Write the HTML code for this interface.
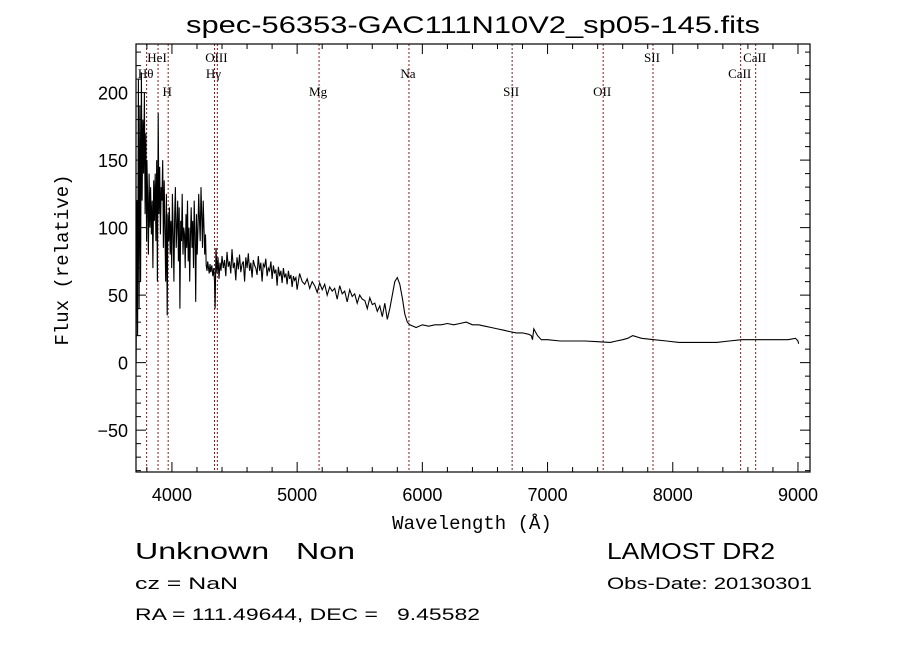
<!DOCTYPE html>
<html><head><meta charset="utf-8"><style>
body{margin:0;background:#fff;}
svg text{font-family:"Liberation Sans",sans-serif;fill:#000;}
</style></head><body>
<svg id="chart" width="900" height="649" viewBox="0 0 900 649" xmlns="http://www.w3.org/2000/svg">
<rect width="900" height="649" fill="#fff"/>
<text x="186" y="33" font-size="24" textLength="574" lengthAdjust="spacingAndGlyphs">spec-56353-GAC111N10V2_sp05-145.fits</text>
<g id="lines"></g>
<g id="axes"></g>
<path id="spec" fill="none" stroke="#000" stroke-width="1.1"/>
<rect x="136" y="44" width="674" height="428" fill="none" stroke="#000" stroke-width="1.2"/>
<text x="472" y="529" font-size="19" text-anchor="middle" style="font-family:'Liberation Mono',monospace">Wavelength (Å)</text>
<text transform="translate(68,260) rotate(-90)" font-size="19" text-anchor="middle" style="font-family:'Liberation Mono',monospace">Flux (relative)</text>
<text x="135" y="559" font-size="23" xml:space="preserve" textLength="220" lengthAdjust="spacingAndGlyphs">Unknown   Non</text>
<text x="607" y="559" font-size="23" textLength="168" lengthAdjust="spacingAndGlyphs">LAMOST DR2</text>
<text x="135" y="589" font-size="17" textLength="103" lengthAdjust="spacingAndGlyphs">cz = NaN</text>
<text x="607" y="589" font-size="17" textLength="205" lengthAdjust="spacingAndGlyphs">Obs-Date: 20130301</text>
<text x="135" y="620" font-size="17" xml:space="preserve" textLength="345" lengthAdjust="spacingAndGlyphs">RA = 111.49644, DEC =   9.45582</text>
</svg>
<script>
const xMin=3713, xMax=9096, yMin=-81, yMax=236;
const L=136,R=810,T=44,B=472;
function X(w){return L+(w-xMin)/(xMax-xMin)*(R-L);}
function Y(v){return B-(v-yMin)/(yMax-yMin)*(B-T);}
const xTicks=[4000,5000,6000,7000,8000,9000];
const xTickLabels=["4000","5000","6000","7000","8000","9000"];
const yTicks=[-50,0,50,100,150,200];
const yTickLabels=["−50","0","50","100","150","200"];
const lineNames=["Hθ","HeI","H","Hγ","OIII","Mg","Na","SII","OII","SII","CaII","CaII"];
const lineWaves=[3798,3889,3970,4340,4363,5175,5893,6717,7444,7842,8542,8662];
const lineLabelRow=[1,0,2,1,0,2,1,2,2,0,1,0];
const specW=[3714,3720,3726,3732,3738,3744,3750,3756,3762,3768,3774,3780,3786,3792,3798,3800,3806,3812,3818,3824,3830,3836,3842,3848,3854,3860,3866,3872,3878,3884,3890,3896,3902,3908,3914,3920,3926,3932,3938,3944,3950,3956,3962,3968,3974,3980,3986,3992,3998,4004,4010,4016,4022,4028,4034,4040,4046,4052,4058,4064,4070,4076,4082,4088,4094,4100,4106,4112,4118,4124,4130,4136,4142,4148,4154,4160,4166,4172,4178,4184,4190,4196,4202,4208,4214,4220,4226,4232,4238,4244,4250,4256,4262,4268,4274,4280,4286,4292,4298,4304,4310,4318,4326,4334,4340,4345,4352,4360,4368,4376,4384,4392,4400,4410,4420,4430,4440,4450,4460,4470,4480,4490,4500,4510,4520,4530,4540,4550,4560,4570,4580,4590,4600,4610,4620,4630,4640,4650,4660,4670,4680,4690,4700,4710,4720,4730,4740,4750,4760,4770,4780,4790,4800,4810,4820,4830,4840,4850,4860,4870,4880,4890,4900,4910,4920,4930,4940,4950,4960,4970,4980,4990,5000,5020,5040,5060,5080,5100,5120,5140,5160,5180,5200,5220,5240,5260,5280,5300,5320,5340,5360,5380,5400,5420,5440,5460,5480,5500,5520,5540,5560,5580,5600,5620,5640,5660,5680,5700,5720,5740,5760,5780,5800,5820,5840,5860,5880,5900,5950,6000,6050,6100,6150,6200,6250,6300,6350,6400,6450,6500,6550,6600,6650,6700,6750,6800,6850,6870,6880,6890,6920,6950,7000,7100,7200,7300,7400,7500,7550,7600,7640,7680,7750,7850,7950,8050,8150,8250,8350,8450,8550,8650,8750,8850,8920,8980,9000,9005];
const specF=[0,120,20,210,40,190,60,215,120,180,140,200,110,170,90,150,125,80,140,100,130,95,120,70,135,105,140,90,150,60,185,110,145,95,130,120,150,85,135,100,60,125,35,110,90,115,80,105,70,125,95,60,110,130,85,100,120,75,115,40,105,90,125,80,100,95,70,110,85,120,75,100,60,95,115,85,105,70,120,95,45,110,80,100,125,105,90,130,110,85,120,100,80,95,72,68,75,70,66,73,67,72,64,70,60,40,85,66,78,62,74,68,79,70,76,64,82,71,75,66,84,70,74,61,78,69,80,67,73,75,60,78,70,81,68,74,63,76,72,70,65,79,68,74,60,73,71,77,64,70,68,75,62,72,66,69,57,71,64,68,59,70,63,66,58,68,62,65,56,64,61,63,54,66,60,58,62,55,60,57,52,59,54,58,50,56,53,55,47,57,51,53,45,54,49,51,44,50,47,46,40,48,43,44,38,42,34,44,32,40,50,60,63,58,48,36,30,28,26,28,27,28,28,29,28,29,30,28,28,27,26,25,24,23,22,22,21,20,17,25,20,17,17,16,16,16,15.5,15,16,17,18,20,18,17,16,15,15,15,15,16,17,17,17,17,17,18,16,14,0];
const NS="http://www.w3.org/2000/svg";
function mk(tag,attrs,parent){const e=document.createElementNS(NS,tag);for(const k in attrs)e.setAttribute(k,attrs[k]);parent.appendChild(e);return e;}
const axes=document.getElementById('axes');
for(let w=3800;w<=9000;w+=200){const x=X(w);const major=w%1000===0;const len=major?10:5;
 const t1=mk('line',{x1:x,x2:x,y1:B,y2:B-len,stroke:'#000'},axes);
 
 
 const t2=mk('line',{x1:x,x2:x,y1:T,y2:T+len,stroke:'#000'},axes);
 
 }
xTicks.forEach((w,i)=>{const t=mk('text',{x:X(w),y:B+29,'font-size':18,'text-anchor':'middle'},axes);t.textContent=xTickLabels[i];
 
 });
for(let v=-80;v<=230;v+=10){const y=Y(v);const major=v%50===0;const len=major?10:5;
 const t1=mk('line',{x1:L,x2:L+len,y1:y,y2:y,stroke:'#000'},axes);
 
 
 const t2=mk('line',{x1:R,x2:R-len,y1:y,y2:y,stroke:'#000'},axes);
 
 }
yTicks.forEach((v,i)=>{const t=mk('text',{x:L-8,y:Y(v)+7,'font-size':18,'text-anchor':'end'},axes);t.textContent=yTickLabels[i];
 
 });
const lg=document.getElementById('lines');
const rowY=[62,78,96];
lineWaves.forEach((w,i)=>{const x=X(w);
 const ln=mk('line',{x1:x,x2:x,y1:T,y2:B,stroke:'#8b1a1a','stroke-width':1,'stroke-dasharray':'2,2'},lg);
 
 
 const t=mk('text',{x:x-1,y:rowY[lineLabelRow[i]],'font-size':13,'text-anchor':'middle',style:"font-family:'Liberation Serif',serif"},lg);
 t.textContent=lineNames[i];
 
 });
let d='';specW.forEach((w,i)=>{d+=(i?'L':'M')+X(w).toFixed(1)+','+Y(specF[i]).toFixed(1);});
document.getElementById('spec').setAttribute('d',d);
</script>
</body></html>
